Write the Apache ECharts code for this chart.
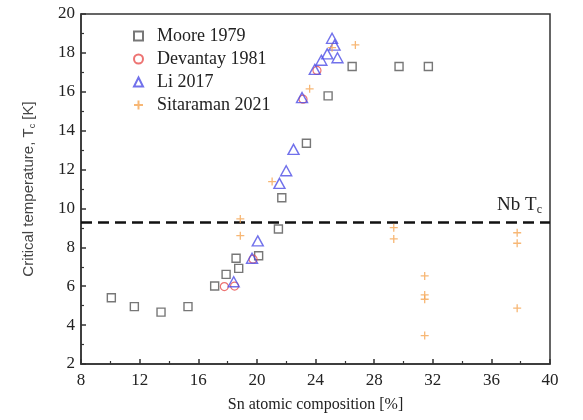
<!DOCTYPE html>
<html><head><meta charset="utf-8">
<script src="https://cdn.jsdelivr.net/npm/echarts@6/dist/echarts.min.js"></script>
<style>html,body{margin:0;padding:0;background:#fff}#c{width:583px;height:420px}</style>
</head><body><div id="c"></div>
<script>
const xTicks = [8, 12, 16, 20, 24, 28, 32, 36, 40];
const yTicks = [2, 4, 6, 8, 10, 12, 14, 16, 18, 20];
const seriesNames = ['Moore 1979', 'Devantay 1981', 'Li 2017', 'Sitaraman 2021'];
const moore = [[10.07,5.41],[11.64,4.95],[13.46,4.67],[15.3,4.95],[17.12,6.01],[17.9,6.61],[18.58,7.44],[18.76,6.92],[20.12,7.57],[21.47,8.94],[21.7,10.55],[23.38,13.35],[24.86,15.79],[26.5,17.3],[29.7,17.3],[31.7,17.3]];
const devantay = [[17.78,5.98],[18.48,6.01],[19.74,7.39],[23.15,15.62],[24.1,17.1]];
const li = [[18.42,6.23],[19.67,7.44],[20.06,8.33],[21.54,11.29],[22.0,11.94],[22.5,13.04],[23.08,15.7],[23.95,17.15],[24.4,17.62],[24.8,17.95],[25.13,18.75],[25.3,18.4],[25.5,17.75]];
const sitaraman = [[18.87,9.46],[18.87,8.6],[21.04,11.38],[23.6,16.15],[25.13,18.27],[26.72,18.41],[29.34,9.01],[29.34,8.43],[31.45,6.53],[31.45,5.55],[31.45,5.33],[31.45,3.46],[37.76,8.75],[37.76,8.21],[37.76,4.87]];
const nbTc = 9.3;

const serif = 'Liberation Serif';
const chart = echarts.init(document.getElementById('c'), null, {renderer: 'canvas'});
const hollow = (c, w) => ({color: 'rgba(0,0,0,0)', borderColor: c, borderWidth: w});
chart.setOption({
  animation: false,
  grid: {left: 81, right: 33, top: 14, bottom: 56, show: true, borderColor: '#333', borderWidth: 1.5},
  legend: {
    left: 128, top: 22, orient: 'vertical', itemGap: 5, itemWidth: 9, itemHeight: 9,
    data: seriesNames,
    textStyle: {fontFamily: serif, fontSize: 18, color: '#222', padding: [0, 0, 0, 9]}
  },
  xAxis: {
    type: 'value', min: xTicks[0], max: xTicks[xTicks.length - 1], interval: 4,
    name: 'Sn atomic composition [%]', nameLocation: 'middle', nameGap: 33,
    nameTextStyle: {fontFamily: serif, fontSize: 16, color: '#222'},
    axisLine: {lineStyle: {color: '#333', width: 1.5}},
    axisTick: {inside: true, length: 5, lineStyle: {color: '#333', width: 1.5}},
    minorTick: {show: true, splitNumber: 2, length: 3, lineStyle: {color: '#333', width: 1.2}},
    axisLabel: {fontFamily: serif, fontSize: 17, color: '#222', margin: 8},
    splitLine: {show: false}
  },
  yAxis: {
    type: 'value', min: yTicks[0], max: yTicks[yTicks.length - 1], interval: 2,
    name: '{a|Critical temperature, T}{s|c}{a| [K]}', nameLocation: 'middle', nameGap: 44, nameRotate: 90,
    nameTextStyle: {rich: {
      a: {fontFamily: 'Liberation Sans', fontSize: 15, color: '#444'},
      s: {fontFamily: 'Liberation Sans', fontSize: 9, color: '#444', verticalAlign: 'bottom', padding: [8, 0, 0, 0]}
    }},
    axisLine: {lineStyle: {color: '#333', width: 1.5}},
    axisTick: {inside: true, length: 5, lineStyle: {color: '#333', width: 1.5}},
    minorTick: {show: true, splitNumber: 2, length: 3, lineStyle: {color: '#333', width: 1.2}},
    axisLabel: {fontFamily: serif, fontSize: 17, color: '#222', margin: 6},
    splitLine: {show: false}
  },
  series: [
    {name: seriesNames[0], type: 'scatter', data: moore, symbol: 'rect', symbolSize: 8,
     itemStyle: hollow('#555', 1.4), z: 3,
     markLine: {silent: true, symbol: 'none', data: [{yAxis: nbTc}],
       lineStyle: {color: '#111', type: [11, 6], width: 2.5},
       label: {show: true, position: 'insideEndTop', distance: [8, 6],
         formatter: '{a|Nb T}{s|c}',
         rich: {a: {fontFamily: serif, fontSize: 19, color: '#222'},
                s: {fontFamily: serif, fontSize: 12, color: '#222', padding: [10, 0, 0, 0]}}}}},
    {name: seriesNames[1], type: 'scatter', data: devantay, symbol: 'circle', symbolSize: 8,
     itemStyle: hollow('#e8504f', 1.2), z: 4},
    {name: seriesNames[2], type: 'scatter', data: li, symbol: 'triangle', symbolSize: [11, 10],
     itemStyle: hollow('#4e4ee6', 1.4), z: 5},
    {name: seriesNames[3], type: 'scatter', data: sitaraman, symbol: 'path://M5,0L5,10M0,5L10,5', symbolSize: 8,
     itemStyle: hollow('#f5a552', 1.3), z: 6}
  ]
});
</script></body></html>
